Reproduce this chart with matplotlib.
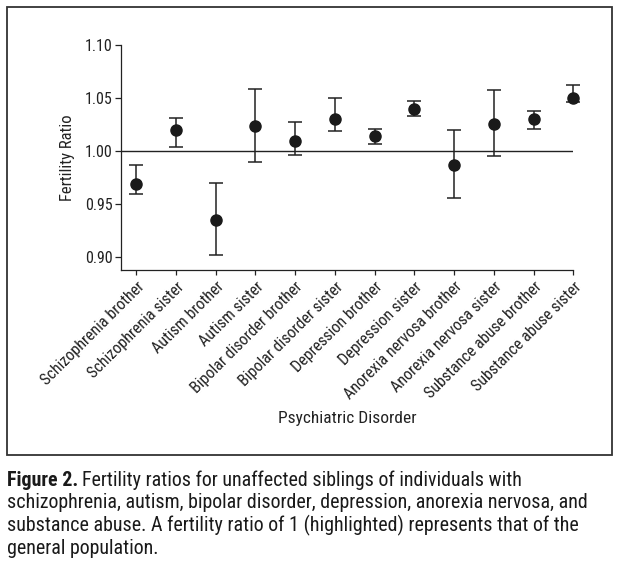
import matplotlib
matplotlib.use('Agg')
import matplotlib.pyplot as plt
from matplotlib.patches import Rectangle
import numpy as np

plt.rcParams['font.family'] = ['Roboto Condensed', 'DejaVu Sans']

groups = ['Schizophrenia brother', 'Schizophrenia sister', 'Autism brother', 'Autism sister',
          'Bipolar disorder brother', 'Bipolar disorder sister', 'Depression brother',
          'Depression sister', 'Anorexia nervosa brother', 'Anorexia nervosa sister',
          'Substance abuse brother', 'Substance abuse sister']
ratio = [0.969, 1.020, 0.935, 1.024, 1.010, 1.030, 1.014, 1.040, 0.987, 1.026, 1.030, 1.050]
ci_low = [0.960, 1.004, 0.902, 0.990, 0.996, 1.019, 1.007, 1.033, 0.956, 0.995, 1.021, 1.046]
ci_high = [0.987, 1.031, 0.970, 1.059, 1.027, 1.050, 1.021, 1.047, 1.020, 1.058, 1.038, 1.062]
yticks = [0.90, 0.95, 1.00, 1.05, 1.10]

caption = ['Fertility ratios for unaffected siblings of individuals with',
           'schizophrenia, autism, bipolar disorder, depression, anorexia nervosa, and',
           'substance abuse. A fertility ratio of 1 (highlighted) represents that of the',
           'general population.']

W, H = 620, 563
fig = plt.figure(figsize=(W / 100, H / 100), dpi=100)
ax = fig.add_axes([121 / W, 1 - 270 / H, (573.3 - 121) / W, (270 - 45) / H])

x = np.arange(len(groups))
r = np.array(ratio)
err = np.vstack([r - np.array(ci_low), np.array(ci_high) - r])
ax.axhline(1.0, color='#222222', lw=1.0, zorder=1)
ax.errorbar(x, r, yerr=err, fmt='o', color='#1a1a1a', ecolor='#222222', elinewidth=1.1,
            capsize=5, capthick=1.1, markersize=8, clip_on=False, zorder=3)

ax.set_xlim(-0.385, 11)
ax.set_ylim(0.888, 1.10)
ax.set_yticks(yticks)
ax.set_yticklabels(['%.2f' % t for t in yticks])
ax.set_xticks(x)
ax.set_xticklabels(groups, rotation=45, ha='right', rotation_mode='anchor', fontsize=11.6)
ax.tick_params(axis='y', length=4.5, width=0.9, pad=1.5, labelsize=11.5, colors='#222222')
ax.tick_params(axis='x', length=3.5, width=0.9, pad=3, colors='#222222')
for s in ['top', 'right']:
    ax.spines[s].set_visible(False)
for s in ['left', 'bottom']:
    ax.spines[s].set_linewidth(0.9)
    ax.spines[s].set_color('#222222')
ax.set_ylabel('Fertility Ratio', fontsize=12, color='#222222', labelpad=7)
fig.text(347 / W, 1 - 423 / H, 'Psychiatric Disorder', fontsize=12.5, color='#222222',
         ha='center', va='baseline')

# outer frame
fig.patches.append(Rectangle((7 / W, 1 - 455 / H), 605 / W, 448 / H, transform=fig.transFigure,
                             fill=False, edgecolor='#333333', lw=1.3))

# caption
fs = 14.4
base = [485.5, 508.5, 531, 553.5]
r_ = fig.canvas.get_renderer()
t0 = fig.text(7 / W, 1 - base[0] / H, 'Figure 2.', fontsize=fs, weight='bold', color='#1a1a1a',
              va='baseline')
bb = t0.get_window_extent(renderer=r_)
fig.text(bb.x1 / W + 4 / W, 1 - base[0] / H, caption[0], fontsize=fs, color='#1a1a1a', va='baseline')
for line, b in zip(caption[1:], base[1:]):
    fig.text(7 / W, 1 - b / H, line, fontsize=fs, color='#1a1a1a', va='baseline')

fig.savefig('out.png', dpi=100)
